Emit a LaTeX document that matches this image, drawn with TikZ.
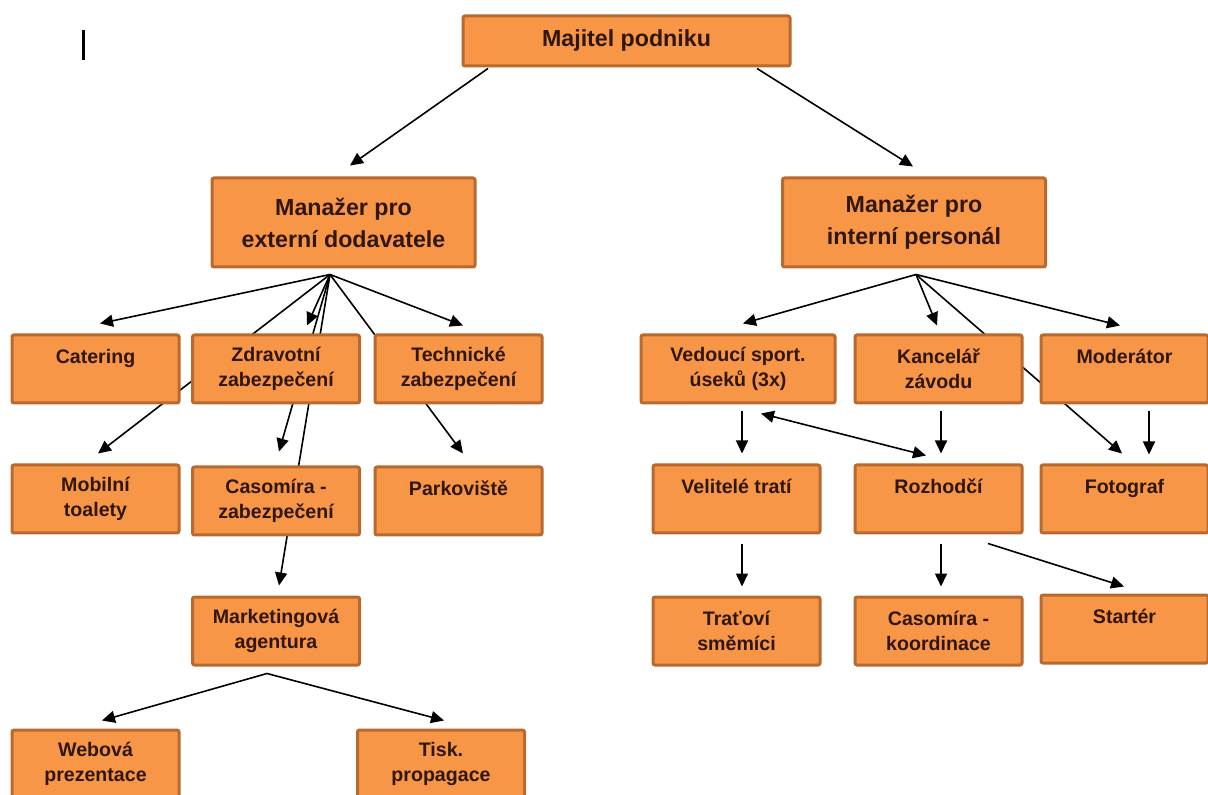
\documentclass[tikz,border=0pt]{standalone}
\usepackage{fontspec}
\setmainfont{Liberation Sans}
\usetikzlibrary{arrows.meta,calc,positioning,backgrounds}
\definecolor{boxfill}{RGB}{247,150,70}
\definecolor{boxline}{RGB}{182,106,48}
\definecolor{boxtext}{RGB}{48,22,12}
\tikzset{
  box/.style    = {draw=boxline, line width=1.5pt, fill=boxfill, rounded corners=1pt,
                   minimum width=83.5pt, minimum height=34pt, inner sep=0pt, align=center,
                   text=boxtext, font=\fontsize{9.8}{12.5}\selectfont\bfseries},
  bigbox/.style = {box, minimum width=131.5pt, minimum height=44.5pt,
                   font=\fontsize{11.6}{16}\selectfont\bfseries},
  arr/.style    = {-{Triangle[length=6.5pt,width=6pt]}, line width=0.8pt, black},
  darr/.style   = {{Triangle[length=6.5pt,width=6pt]}-{Triangle[length=6.5pt,width=6pt]},
                   line width=0.8pt, black},
}

\begin{document}
\begin{tikzpicture}[x=0.5pt,y=-0.5pt]
  \useasboundingbox (0,0) rectangle (1208,795);
  \draw[line width=1.5pt] (83,30) -- (83,60);
  % top level
  \node[bigbox, minimum width=163.5pt, minimum height=25pt] (owner) at (626.5,41) {Majitel podniku};
  \node[bigbox] (mext) at (343.5,222.5) {Manažer pro\\externí dodavatele};
  \node[bigbox] (mint) at (914,222.5) {Manažer pro\\interní personál};
  % external suppliers
  \node[box] (cat)  at (95.5,369)  {Catering\\~};
  \node[box] (zdr)  at (276,369)   {Zdravotní\\zabezpečení};
  \node[box] (tech) at (458.5,369) {Technické\\zabezpečení};
  \node[box] (mob)  at (95.5,499)  {Mobilní\\toalety};
  \node[box] (cas)  at (276,501)   {Casomíra -\\zabezpečení};
  \node[box] (park) at (458.5,501) {Parkoviště\\~};
  \node[box] (mkt)  at (276,631)   {Marketingová\\agentura};
  \node[box] (web)  at (95.5,764)  {Webová\\prezentace};
  \node[box] (tisk) at (441,764)   {Tisk.\\propagace};
  % internal staff
  \node[box, minimum width=97pt] (ved) at (738,369) {Vedoucí sport.\\úseků (3x)};
  \node[box] (kanc)  at (938.5,369)  {Kancelář\\závodu};
  \node[box] (mod)   at (1124.5,369) {Moderátor\\~};
  \node[box] (vel)   at (736.5,499)  {Velitelé tratí\\~};
  \node[box] (roz)   at (938.5,499)  {Rozhodčí\\~};
  \node[box] (foto)  at (1124.5,499) {Fotograf\\~};
  \node[box] (trat)  at (736.5,631)  {Traťoví\\směmíci};
  \node[box] (casko) at (938.5,631)  {Casomíra -\\koordinace};
  \node[box] (start) at (1124.5,629) {Startér\\~};
  % connectors, behind the boxes
  \begin{scope}[on background layer]
    \draw[arr] ([shift={(-138.5,1)}]owner.south) -- ([shift={(6.5,-11)}]mext.north);
    \draw[arr] ([shift={(130.5,1)}]owner.south) -- ([shift={(-1,-10)}]mint.north);
    \coordinate (extA) at ([shift={(-13.5,6)}]mext.south);
    \draw[arr] (extA) -- ([shift={(4.5,-10)}]cat.north);
    \draw[arr] (extA) -- ([shift={(31,-8)}]zdr.north);
    \draw[arr] (extA) -- ([shift={(4.5,-8)}]tech.north);
    \draw[arr] (extA) -- ([shift={(2.5,-10)}]mob.north);
    \draw[arr] (extA) -- ([shift={(3,-14)}]cas.north);
    \draw[arr] (extA) -- ([shift={(3,-10)}]mkt.north);
    \draw[arr] (extA) -- ([shift={(4.5,-12)}]park.north);
    \coordinate (mktA) at ([shift={(-9,7)}]mkt.south);
    \draw[arr] (mktA) -- ([shift={(6.5,-8)}]web.north);
    \draw[arr] (mktA) -- ([shift={(3,-8)}]tisk.north);
    \coordinate (intA) at ([shift={(2,6)}]mint.south);
    \draw[arr] (intA) -- ([shift={(5,-10)}]ved.north);
    \draw[arr] (intA) -- ([shift={(-1.5,-8)}]kanc.north);
    \draw[arr] (intA) -- ([shift={(-4.5,-8)}]mod.north);
    \draw[arr] (intA) -- ([shift={(-2.5,-10)}]foto.north);
    \draw[arr] ([shift={(4,7)}]ved.south) -- ([shift={(5.5,-10)}]vel.north);
    \draw[arr] ([shift={(2.5,7)}]kanc.south) -- ([shift={(2.5,-10)}]roz.north);
    \draw[arr] ([shift={(24.5,7)}]mod.south) -- ([shift={(24.5,-9)}]foto.north);
    \draw[darr] ([shift={(23,9)}]ved.south) -- ([shift={(-12.5,-8)}]roz.north);
    \draw[arr] ([shift={(5.5,9)}]vel.south) -- ([shift={(5.5,-9)}]trat.north);
    \draw[arr] ([shift={(2.5,9)}]roz.south) -- ([shift={(2.5,-9)}]casko.north);
    \draw[arr] ([shift={(49.5,9)}]roz.south) -- ([shift={(-0.5,-7)}]start.north);
  \end{scope}
\end{tikzpicture}
\end{document}
